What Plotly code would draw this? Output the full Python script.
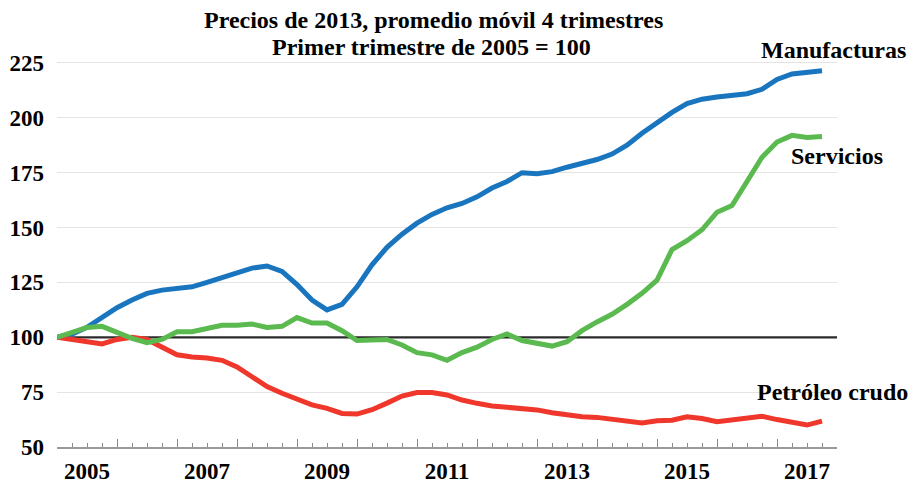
import plotly.graph_objects as go

quarters = [2005 + i * 0.25 for i in range(52)]

manufacturas = [100, 101.5, 104.5, 109, 113.5, 117, 120, 121.5,
                122, 123, 125, 127, 129.5, 131.5, 132.5, 130,
                124, 117, 112.5, 115, 123, 133, 141, 147,
                152, 156, 159, 161, 164, 168, 171, 175,
                174.5, 175.5, 177.5, 179, 181, 183.5, 187.5, 193,
                198, 202.5, 206.5, 208.5, 209.5, 210.5, 211, 213,
                217.5, 220, 220.5, 221.5]

servicios = [100, 102.5, 104.5, 105, 102, 99.5, 97.5, 99,
             102.5, 102.5, 104, 105.5, 105.5, 106, 104.5, 105,
             109, 106.5, 106.5, 103, 98.5, 99, 99, 96.5,
             93, 92, 89.5, 93, 95.5, 99, 101.5, 98.5,
             97.5, 96, 98, 103, 107, 110.5, 115, 120,
             126, 140, 144, 149, 157, 160, 171, 182,
             189, 192, 191, 191.5]

petroleo = [100, 99, 97.8, 97, 99, 100, 99, 95.7,
            92, 91, 90.6, 89.5, 86.5, 82, 77.5, 74.5,
            72, 69.2, 67.6, 65.3, 65, 67, 70, 73.2,
            74.8, 74.8, 73.7, 71.4, 69.9, 68.7, 68.1, 67.6,
            66.9, 65.6, 64.6, 63.8, 63.5, 62.6, 61.5, 61,
            62, 62.2, 63.8, 63, 61.5, 62.5, 63.5, 64,
            62.5, 61.5, 60, 61.8]

years = list(range(2005, 2019))
year_labels = ["2005", "2007", "2009", "2011", "2013", "2015", "2017"]
y_ticks = [50, 75, 100, 125, 150, 175, 200, 225]

title_lines = ["Precios de 2013, promedio móvil 4 trimestres",
               "Primer trimestre de 2005 = 100"]

FONT = "Liberation Serif"
BLUE = "#1a75bf"
GREEN = "#5ab94f"
RED = "#f0372c"

fig = go.Figure()

# reference line at 100
fig.add_trace(go.Scatter(x=[2005, 2018], y=[100, 100], mode="lines",
                         line=dict(color="#2b2b2b", width=2.2),
                         hoverinfo="skip", showlegend=False))

fig.add_trace(go.Scatter(x=quarters, y=manufacturas, mode="lines",
                         line=dict(color=BLUE, width=5), name="Manufacturas",
                         showlegend=False))
fig.add_trace(go.Scatter(x=quarters, y=petroleo, mode="lines",
                         line=dict(color=RED, width=5), name="Petróleo crudo",
                         showlegend=False))
fig.add_trace(go.Scatter(x=quarters, y=servicios, mode="lines",
                         line=dict(color=GREEN, width=5), name="Servicios",
                         showlegend=False))

# invisible trace on secondary x axis that carries the year labels
fig.add_trace(go.Scatter(x=[2005], y=[50], xaxis="x2", mode="markers",
                         marker=dict(opacity=0), hoverinfo="skip", showlegend=False))

fig.update_layout(
    width=908, height=487,
    margin=dict(l=57, r=71, t=52, b=40, autoexpand=False),
    paper_bgcolor="white", plot_bgcolor="white",
    font=dict(family=FONT, color="black"),
    xaxis=dict(range=[2005, 2018], tickvals=years, ticktext=[""] * len(years),
               ticks="inside", ticklen=8, tickwidth=1.2, tickcolor="#8a8a8a",
               minor=dict(dtick=0.25, tick0=2005, ticks="inside", ticklen=4,
                          tickwidth=1, tickcolor="#8a8a8a", showgrid=False),
               showgrid=False, zeroline=False, automargin=False,
               showline=True, linecolor="#9a9a9a", linewidth=1.5),
    xaxis2=dict(range=[2005, 2018], overlaying="x", side="bottom",
                tickvals=[int(y) + 0.5 for y in year_labels],
                ticktext=[f"<b>{t}</b>" for t in year_labels],
                ticks="", showgrid=False, zeroline=False, showline=False,
                automargin=False,
                tickfont=dict(family=FONT, size=23, color="black"),
                ticklabelstandoff=8),
    yaxis=dict(range=[50, 230], tickvals=y_ticks,
               ticktext=[f"<b>{v}</b>" for v in y_ticks],
               tickfont=dict(family=FONT, size=23, color="black"),
               showgrid=True, gridcolor="#e4e4e4", gridwidth=1.2,
               zeroline=False, ticks="", ticklabelstandoff=12,
               showline=False, automargin=False),
)

# title lines
fig.add_annotation(x=0.4833, y=(447 - 20) / 395, xref="paper", yref="paper",
                   text=f"<b>{title_lines[0]}</b>", showarrow=False,
                   xanchor="center", yanchor="middle",
                   font=dict(family=FONT, size=24, color="black"))
fig.add_annotation(x=0.480, y=(447 - 47) / 395, xref="paper", yref="paper",
                   text=f"<b>{title_lines[1]}</b>", showarrow=False,
                   xanchor="center", yanchor="middle",
                   font=dict(family=FONT, size=24, color="black"))

# series labels
fig.add_annotation(x=(833.5 - 57) / 780, y=(447 - 50) / 395, xref="paper", yref="paper",
                   text="<b>Manufacturas</b>", showarrow=False,
                   xanchor="center", yanchor="middle",
                   font=dict(family=FONT, size=24, color="black"))
fig.add_annotation(x=(837 - 57) / 780, y=(447 - 156) / 395, xref="paper", yref="paper",
                   text="<b>Servicios</b>", showarrow=False,
                   xanchor="center", yanchor="middle",
                   font=dict(family=FONT, size=24, color="black"))
fig.add_annotation(x=(832 - 57) / 780, y=(447 - 392) / 395, xref="paper", yref="paper",
                   text="<b>Petróleo crudo</b>", showarrow=False,
                   xanchor="center", yanchor="middle",
                   font=dict(family=FONT, size=24, color="black"))

fig.write_html("out.html",
               config={"displayModeBar": False},
               post_script="document.body.style.margin='0';"
                           "document.body.style.overflow='hidden';")
